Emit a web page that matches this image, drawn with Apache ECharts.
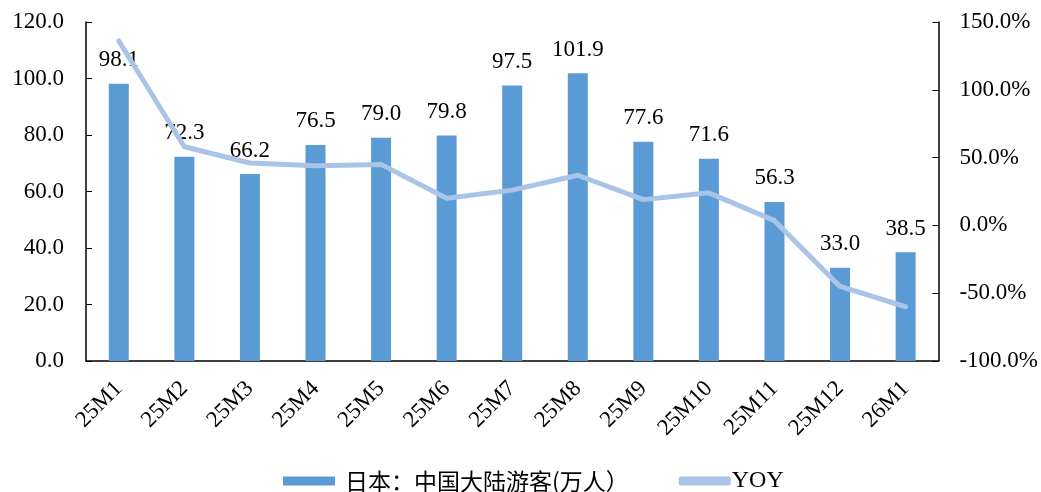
<!DOCTYPE html>
<html>
<head>
<meta charset="utf-8">
<script src="https://cdn.jsdelivr.net/npm/echarts@6/dist/echarts.min.js"></script>
<style>
  html, body { margin: 0; padding: 0; background: #fff; }
  #main { width: 1041px; height: 492px; }
</style>
</head>
<body>
<div id="main"></div>
<script>
// data
const months = ['25M1', '25M2', '25M3', '25M4', '25M5', '25M6', '25M7', '25M8', '25M9', '25M10', '25M11', '25M12', '26M1'];
const visitors = [98.1, 72.3, 66.2, 76.5, 79.0, 79.8, 97.5, 101.9, 77.6, 71.6, 56.3, 33.0, 38.5];
const yoy = [136, 58, 46, 44, 45, 20, 26, 37, 19, 24, 3.5, -45, -60];

const serif = '"Liberation Serif", "Times New Roman", serif';
const chart = echarts.init(document.getElementById('main'));

chart.setOption({
  animation: false,
  textStyle: { fontFamily: serif, color: '#000' },
  grid: { left: 86, right: 101, top: 22, bottom: 131 },
  legend: {
    top: 464,
    left: 278,
    itemGap: 50,
    itemWidth: 52,
    itemHeight: 9,
    textStyle: { fontSize: 23, fontFamily: '"Noto Sans CJK SC", ' + serif, color: '#000', padding: [0, 0, 0, 5] },
    data: [
      { name: '日本：中国大陆游客(万人）', icon: 'rect' },
      { name: 'YOY', icon: 'roundRect', textStyle: { fontFamily: serif, fontSize: 24, padding: [0, 0, 0, -4] } }
    ]
  },
  xAxis: {
    type: 'category',
    data: months,
    axisLine: { lineStyle: { color: '#000', width: 1.5 } },
    axisTick: { inside: true, length: 6, lineStyle: { color: '#000' } },
    axisLabel: { rotate: 45, fontSize: 23, color: '#000', margin: 24, fontFamily: serif }
  },
  yAxis: [
    {
      type: 'value', min: 0, max: 120, interval: 20,
      splitLine: { show: false },
      axisLine: { show: true, lineStyle: { color: '#000', width: 1.5 } },
      axisTick: { show: true, inside: true, length: 6, lineStyle: { color: '#000' } },
      axisLabel: { fontSize: 23, color: '#000', margin: 22, fontFamily: serif, formatter: v => v.toFixed(1) }
    },
    {
      type: 'value', min: -100, max: 150, interval: 50,
      splitLine: { show: false },
      axisLine: { show: true, lineStyle: { color: '#000', width: 1.5 } },
      axisTick: { show: true, inside: true, length: 6, lineStyle: { color: '#000' } },
      axisLabel: { fontSize: 23, color: '#000', margin: 21, fontFamily: serif, formatter: v => v.toFixed(1) + '%' }
    }
  ],
  series: [
    {
      name: '日本：中国大陆游客(万人）',
      type: 'bar',
      data: visitors,
      barWidth: 20,
      itemStyle: { color: '#5B9BD5' },
      label: {
        show: true, position: 'top', distance: 12,
        fontSize: 23, color: '#000', fontFamily: serif,
        formatter: p => p.value.toFixed(1)
      }
    },
    {
      name: 'YOY',
      type: 'line',
      yAxisIndex: 1,
      data: yoy,
      symbol: 'none',
      lineStyle: { color: '#A9C4E6', width: 5, cap: 'round', join: 'round' },
      itemStyle: { color: '#A9C4E6' },
      z: 3
    }
  ]
});
</script>
</body>
</html>
